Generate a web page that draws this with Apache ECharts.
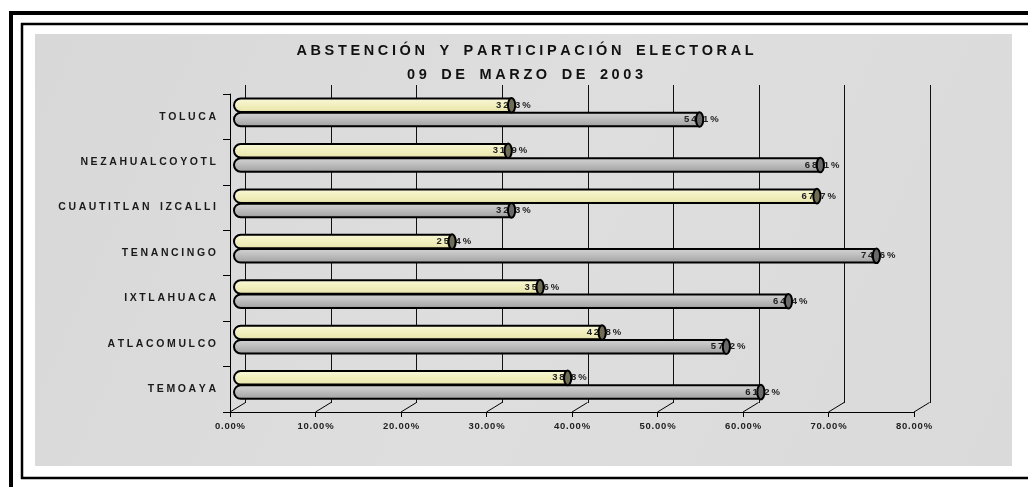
<!DOCTYPE html>
<html>
<head>
<meta charset="utf-8">
<script src="https://cdn.jsdelivr.net/npm/echarts@6/dist/echarts.min.js"></script>
<style>
html,body{margin:0;padding:0;background:#fff;}
#chart{width:1028px;height:487px;}
</style>
</head>
<body>
<div id="chart"></div>
<script>
// ---- data ----
const titleLines = ['ABSTENCIÓN Y PARTICIPACIÓN ELECTORAL', '09 DE MARZO DE 2003'];
const categories = ['TOLUCA', 'NEZAHUALCOYOTL', 'CUAUTITLAN IZCALLI', 'TENANCINGO', 'IXTLAHUACA', 'ATLACOMULCO', 'TEMOAYA'];
const serieAmarilla = [32.3, 31.9, 67.7, 25.4, 35.6, 42.8, 38.8];
const serieGris = [54.1, 68.1, 32.3, 74.6, 64.4, 57.2, 61.2];
const tickValues = [0, 10, 20, 30, 40, 50, 60, 70, 80];

// ---- helpers ----
const FONT = "'Liberation Sans',Arial,sans-serif";
function spaced(s, sep, wsep) {
  return s.split(' ').map(w => w.split('').join(sep)).join(wsep);
}
const chart = echarts.init(document.getElementById('chart'), null, {renderer: 'canvas'});

const DX = 15.5, DY = -9.5;

function capSeries(name, data, offY, fill) {
  return {
    name: name + ' cap', type: 'custom', xAxisIndex: 1, yAxisIndex: 1, z: 6, silent: true,
    data: data.map((v, i) => [v, i]),
    renderItem: function (params, api) {
      const p = api.coord([api.value(0), api.value(1)]);
      return {
        type: 'ellipse',
        shape: {cx: p[0], cy: p[1] + offY, rx: 3.6, ry: 7.3},
        style: {fill: fill, stroke: '#000', lineWidth: 2}
      };
    }
  };
}

const labelCommon = {
  show: true, position: 'right', distance: 0, offset: [-15.5, 0],
  color: '#222', fontSize: 9.5, fontWeight: 'bold', fontFamily: FONT,
  formatter: p => spaced(p.value.toFixed(1) + '%', '\u2009', ' ')
};

const option = {
  backgroundColor: '#ffffff',
  animation: false,
  title: {
    text: titleLines.map(t => spaced(t, '\u2005', '\u2005\u2005\u2005\u2005')).join('\n'),
    left: 525, top: 39, textAlign: 'center', padding: 0,
    textStyle: {fontSize: 14.5, fontWeight: 'bold', color: '#111', fontFamily: FONT, lineHeight: 24}
  },
  graphic: [
    {type: 'rect', z: -10, shape: {x: 35, y: 34, width: 977, height: 432},
     style: {fill: new echarts.graphic.LinearGradient(0, 0, 1, 1, [
       {offset: 0, color: '#d8d8d8'}, {offset: 0.5, color: '#dedede'}, {offset: 1, color: '#dadada'}])}},
    {type: 'line', z: -9, shape: {x1: 9, y1: 13, x2: 1028, y2: 13}, style: {stroke: '#000', lineWidth: 4}},
    {type: 'line', z: -9, shape: {x1: 11, y1: 11, x2: 11, y2: 487}, style: {stroke: '#000', lineWidth: 4}},
    {type: 'line', z: -9, shape: {x1: 21, y1: 24, x2: 1028, y2: 24}, style: {stroke: '#000', lineWidth: 2.5}},
    {type: 'line', z: -9, shape: {x1: 22, y1: 23, x2: 22, y2: 479}, style: {stroke: '#000', lineWidth: 2.5}},
    {type: 'line', z: -9, shape: {x1: 21, y1: 478, x2: 1028, y2: 478}, style: {stroke: '#000', lineWidth: 2.5}}
  ],
  grid: [
    {left: 230, right: 114, top: 94, bottom: 75},      // front plane (axes)
    {left: 233, right: 105, top: 89.7, bottom: 79.3},  // bars
    {left: 245.5, right: 98, top: 85, bottom: 84}      // back wall
  ],
  xAxis: [
    {
      type: 'value', gridIndex: 0, min: 0, max: 80, interval: 10,
      axisLine: {show: true, lineStyle: {color: '#000', width: 1}},
      axisTick: {show: true, length: 5, lineStyle: {color: '#000'}},
      splitLine: {show: false},
      axisLabel: {
        margin: 9, color: '#222', fontSize: 9.5, fontWeight: 'bold', fontFamily: FONT,
        formatter: v => spaced(v.toFixed(2) + '%', '\u200A', ' ')
      }
    },
    {type: 'value', gridIndex: 1, min: 0, max: 80, show: false, splitLine: {show: false}},
    {
      type: 'value', gridIndex: 2, min: 0, max: 80, interval: 10,
      axisLine: {show: false}, axisTick: {show: false}, axisLabel: {show: false},
      splitLine: {show: true, lineStyle: {color: '#111', width: 1}}
    }
  ],
  yAxis: [
    {
      type: 'category', gridIndex: 0, data: categories, inverse: true,
      axisLine: {show: true, lineStyle: {color: '#000', width: 1}},
      axisTick: {show: true, length: 7, lineStyle: {color: '#000'}},
      axisLabel: {
        margin: 14, color: '#1a1a1a', fontSize: 10.5, fontWeight: 'bold', fontFamily: FONT,
        formatter: v => spaced(v, '\u2005', '\u2005\u2005\u2005\u2005')
      }
    },
    {type: 'category', gridIndex: 1, data: categories, inverse: true, show: false},
    {type: 'category', gridIndex: 2, data: categories, inverse: true, show: false}
  ],
  series: [
    {
      name: 'Participación', type: 'bar', xAxisIndex: 1, yAxisIndex: 1, z: 3,
      data: serieAmarilla, barWidth: 15.5, barGap: '-8%',
      itemStyle: {
        borderColor: '#000', borderWidth: 2, borderRadius: [7, 0, 0, 7],
        color: new echarts.graphic.LinearGradient(0, 0, 0, 1, [
          {offset: 0, color: '#fbfae0'}, {offset: 0.35, color: '#f4f2c4'},
          {offset: 0.8, color: '#ebe8b2'}, {offset: 1, color: '#cfcb98'}
        ])
      },
      label: labelCommon
    },
    {
      name: 'Abstención', type: 'bar', xAxisIndex: 1, yAxisIndex: 1, z: 3,
      data: serieGris, barWidth: 15.5, barGap: '-8%',
      itemStyle: {
        borderColor: '#000', borderWidth: 2, borderRadius: [7, 0, 0, 7],
        color: new echarts.graphic.LinearGradient(0, 0, 0, 1, [
          {offset: 0, color: '#d4d4d4'}, {offset: 0.35, color: '#c4c4c4'},
          {offset: 0.8, color: '#aaaaaa'}, {offset: 1, color: '#8e8e8e'}
        ])
      },
      label: labelCommon
    },
    capSeries('Participación', serieAmarilla, -7.1, '#6f6d55'),
    capSeries('Abstención', serieGris, 7.1, '#6a6a6a'),
    {
      name: 'depth', type: 'custom', xAxisIndex: 0, yAxisIndex: 0, z: 1, silent: true,
      data: tickValues.map(v => [v, 0]),
      renderItem: function (params, api) {
        const x = api.coord([api.value(0), 0])[0];
        const b = params.coordSys.y + params.coordSys.height;
        return {type: 'line', shape: {x1: x, y1: b, x2: x + DX, y2: b + DY}, style: {stroke: '#000', lineWidth: 1}};
      }
    }
  ]
};
chart.setOption(option);
</script>
</body>
</html>
